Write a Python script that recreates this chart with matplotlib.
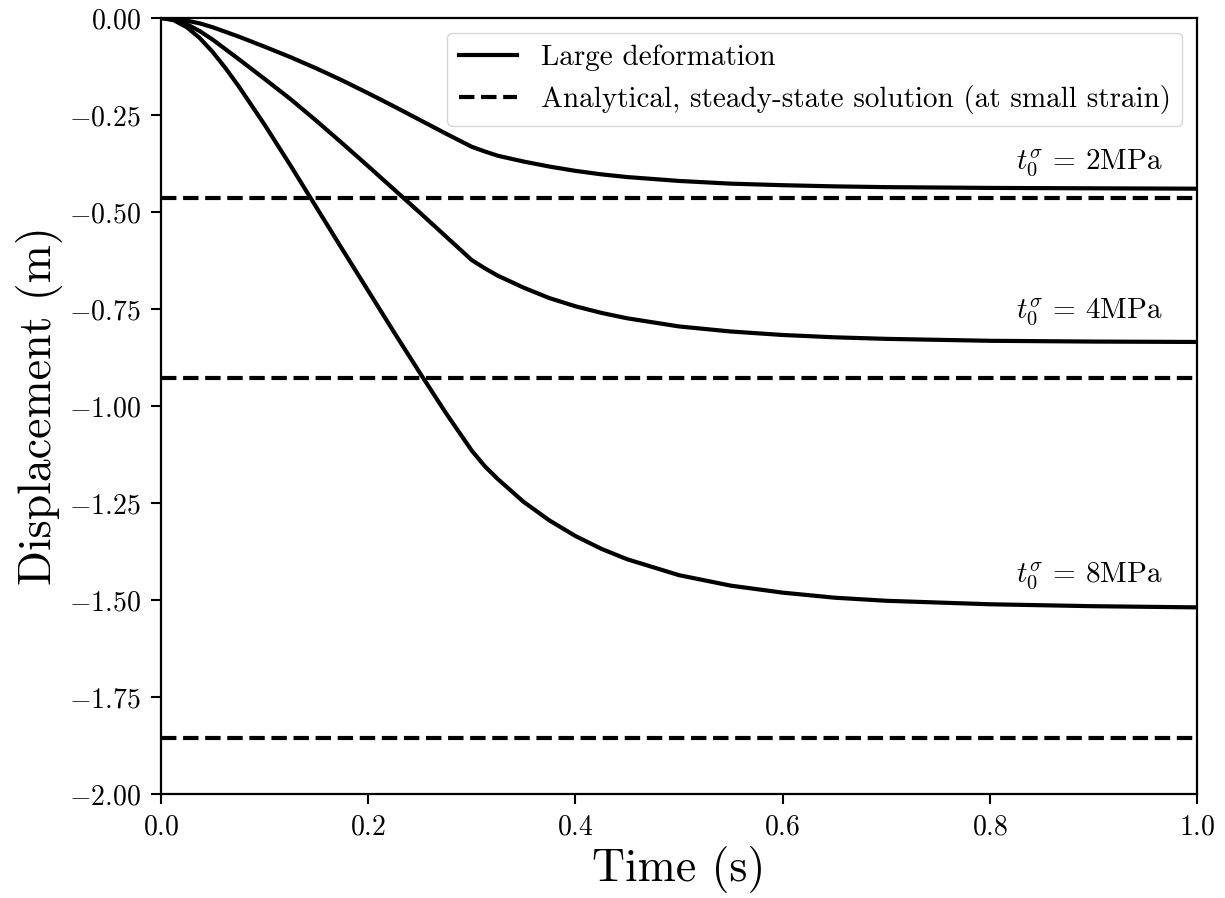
import matplotlib
matplotlib.use("Agg")
import matplotlib.pyplot as plt

plt.rcParams['font.family'] = ['cmr10']
plt.rcParams['mathtext.fontset'] = 'cm'
plt.rcParams['axes.formatter.use_mathtext'] = True
plt.rcParams['axes.unicode_minus'] = True

time = [0.0, 0.0125, 0.025, 0.0375, 0.05, 0.0625, 0.075, 0.1, 0.125, 0.15, 0.175, 0.2, 0.225, 0.25,
        0.275, 0.3, 0.3125, 0.325, 0.35, 0.375, 0.4, 0.425, 0.45, 0.5, 0.55, 0.6, 0.65, 0.7, 0.8, 0.9, 1.0]
disp_2mpa = [0.0, -0.002, -0.007, -0.014, -0.024, -0.036, -0.048, -0.074, -0.101, -0.130, -0.161, -0.194,
             -0.228, -0.263, -0.298, -0.332, -0.344, -0.355, -0.370, -0.383, -0.394, -0.403, -0.410, -0.420,
             -0.427, -0.431, -0.434, -0.436, -0.438, -0.439, -0.440]
disp_4mpa = [0.0, -0.004, -0.016, -0.034, -0.056, -0.081, -0.106, -0.157, -0.209, -0.265, -0.323, -0.382,
             -0.442, -0.502, -0.563, -0.624, -0.645, -0.664, -0.695, -0.722, -0.743, -0.760, -0.774, -0.795,
             -0.808, -0.817, -0.823, -0.827, -0.832, -0.834, -0.835]
disp_8mpa = [0.0, -0.006, -0.024, -0.052, -0.088, -0.130, -0.176, -0.275, -0.380, -0.488, -0.596, -0.703,
             -0.810, -0.915, -1.018, -1.115, -1.155, -1.188, -1.247, -1.295, -1.335, -1.368, -1.395, -1.436,
             -1.463, -1.481, -1.494, -1.502, -1.511, -1.516, -1.519]
analytical = [-0.464, -0.928, -1.856]
labels = [r'$t_0^{\sigma}$ = 2MPa', r'$t_0^{\sigma}$ = 4MPa', r'$t_0^{\sigma}$ = 8MPa']
label_y = [-0.374, -0.760, -1.440]

fig = plt.figure(figsize=(12.25, 8.98), dpi=100)
ax = fig.add_axes([0.1314, 0.1158, 0.8457, 0.8642])

for i, d in enumerate([disp_2mpa, disp_4mpa, disp_8mpa]):
    ax.plot(time, d, color='black', lw=3, label='Large deformation' if i == 0 else None)
for i, a in enumerate(analytical):
    ax.axhline(a, color='black', lw=3, ls='--',
               label='Analytical, steady-state solution (at small strain)' if i == 0 else None)

for lab, y in zip(labels, label_y):
    ax.text(0.967, y, lab, ha='right', va='center', fontsize=21)

ax.set_xlim(0, 1)
ax.set_ylim(-2.0, 0.0)
ax.set_xticks([0.0, 0.2, 0.4, 0.6, 0.8, 1.0])
ax.set_yticks([0.0, -0.25, -0.5, -0.75, -1.0, -1.25, -1.5, -1.75, -2.0])
ax.tick_params(labelsize=20, length=7.5, width=1.5, pad=7)
for s in ax.spines.values():
    s.set_linewidth(1.6)
ax.set_xlabel('Time (s)', fontsize=33)
ax.set_ylabel('Displacement (m)', fontsize=33)
ax.legend(loc='upper right', fontsize=21)

fig.savefig('out.png', dpi=100)
